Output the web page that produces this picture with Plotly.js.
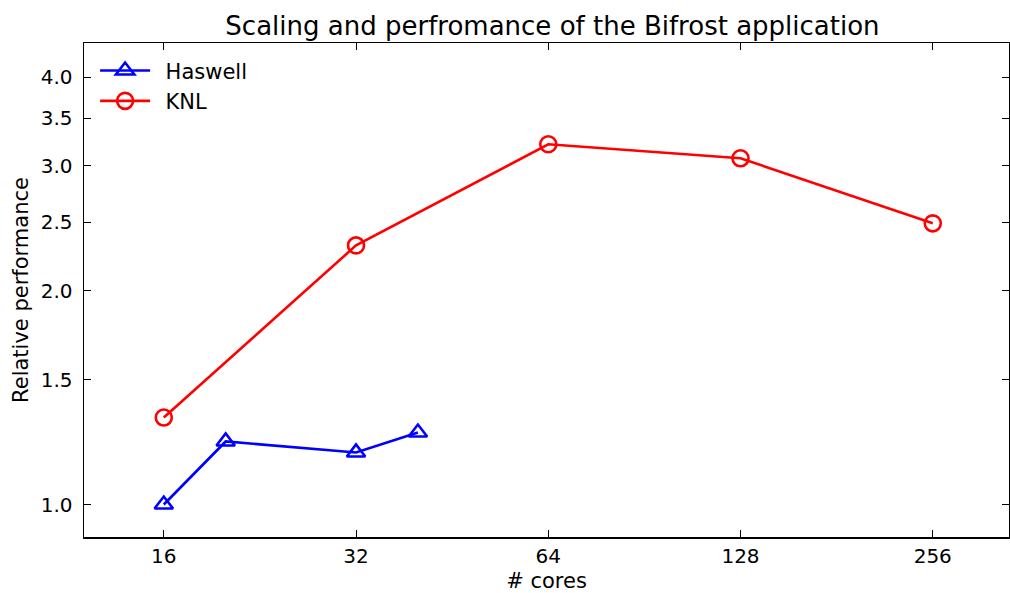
<!DOCTYPE html>
<html>
<head>
<meta charset="utf-8">
<script src="https://cdn.plot.ly/plotly-3.0.1.min.js"></script>
<style>html,body{margin:0;padding:0;background:#fff;}#chart{width:1010px;height:593px;}</style>
</head>
<body>
<div id="chart"></div>
<script>
const haswellCores = [16, 20, 32, 40];
const haswellPerf = [1.0, 1.227, 1.184, 1.263];
const knlCores = [16, 32, 64, 128, 256];
const knlPerf = [1.326, 2.318, 3.218, 3.075, 2.49];
const xTicks = [16, 32, 64, 128, 256];
const xTickText = ['16', '32', '64', '128', '256'];
const yTicks = [1.0, 1.5, 2.0, 2.5, 3.0, 3.5, 4.0];
const yTickText = ['1.0', '1.5', '2.0', '2.5', '3.0', '3.5', '4.0'];
const seriesNames = ['Haswell', 'KNL'];

const font = 'DejaVu Sans, sans-serif';
const pad = '\u2002';
const traces = [
  {x: haswellCores, y: haswellPerf, name: pad + seriesNames[0], mode: 'lines+markers',
   line: {color: '#0000ff', width: 2.6},
   marker: {symbol: 'triangle-up-open', size: 16, color: '#0000ff', line: {width: 2.6, color: '#0000ff'}}},
  {x: knlCores, y: knlPerf, name: pad + seriesNames[1], mode: 'lines+markers',
   line: {color: '#ff0000', width: 2.6},
   marker: {symbol: 'circle-open', size: 16, color: '#ff0000', line: {width: 2.6, color: '#ff0000'}}}
];
const axisCommon = {
  type: 'log', showgrid: false, zeroline: false, showline: true, linecolor: '#000', linewidth: 1.5,
  mirror: 'allticks', ticks: 'inside', ticklen: 7, tickwidth: 1, tickcolor: '#000',
  tickfont: {family: font, size: 20, color: '#000'}
};
const layout = {
  width: 1010, height: 593,
  margin: {l: 84, r: 1, t: 43, b: 56},
  paper_bgcolor: '#fff', plot_bgcolor: '#fff',
  font: {family: font, color: '#000'},
  title: {text: 'Scaling and perfromance of the Bifrost application', font: {family: font, size: 26, color: '#000'},
          x: 0.547, xanchor: 'center', y: 0.957, yanchor: 'middle'},
  xaxis: Object.assign({}, axisCommon, {
    range: [Math.log10(12), Math.log10(337)], tickvals: xTicks, ticktext: xTickText,
    ticklabelstandoff: 0,
    title: {text: '# cores', font: {family: font, size: 21, color: '#000'}, standoff: 16}
  }),
  yaxis: Object.assign({}, axisCommon, {
    range: [Math.log10(0.9), Math.log10(4.47)], tickvals: yTicks, ticktext: yTickText,
    ticklabelstandoff: 6,
    title: {text: 'Relative performance', font: {family: font, size: 21, color: '#000'}, standoff: 6}
  }),
  showlegend: true,
  legend: {x: 0.012, y: 0.985, xanchor: 'left', yanchor: 'top', bgcolor: 'rgba(0,0,0,0)',
           font: {family: font, size: 21, color: '#000'}, tracegroupgap: 0, itemwidth: 50}
};
Plotly.newPlot('chart', traces, layout, {displayModeBar: false, staticPlot: true});
</script>
</body>
</html>
